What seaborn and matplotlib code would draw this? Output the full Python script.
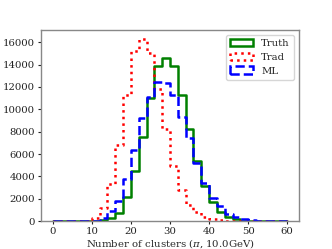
import matplotlib
matplotlib.use("Agg")
import matplotlib.pyplot as plt
import matplotlib.patches as mpatches
import seaborn as sns
import numpy as np
import pandas as pd

# histogram counts, bins of width 2 from 0 to 60
edges = np.arange(0, 62, 2)
truth = [0, 0, 0, 0, 0, 5, 60, 250, 700, 2170, 4450, 7500, 11050, 13850, 14600,
         13850, 11300, 8200, 5330, 3100, 1680, 820, 370, 140, 45, 15, 5, 0, 0, 0]
trad = [0, 0, 0, 0, 30, 280, 1150, 3350, 6790, 11300, 15200, 16280, 15060, 11850, 8280,
        4940, 2740, 1430, 780, 380, 160, 60, 20, 5, 0, 0, 0, 0, 0, 0]
ml = [0, 0, 0, 0, 0, 30, 240, 890, 1810, 3770, 6400, 9200, 11100, 12480, 12350,
      11300, 9300, 7400, 5170, 3420, 2100, 1300, 650, 330, 150, 70, 25, 5, 0, 0]

names = ["Truth", "Trad", "ML"]
colors = {"Truth": "green", "Trad": "red", "ML": "blue"}
styles = {"Truth": "-", "Trad": ":", "ML": "--"}

centers = (edges[:-1] + edges[1:]) / 2
dt = pd.DataFrame({
    "x": np.tile(centers, 3),
    "w": truth + trad + ml,
    "type": np.repeat(names, len(centers)),
})

sns.set_theme(style="ticks", rc={"figure.figsize": (3.32, 2.49), "figure.dpi": 100})
plt.rcParams["font.family"] = ["DejaVu Serif"]
plt.rcParams["mathtext.fontset"] = "dejavuserif"

fig = plt.figure()
ax = fig.add_axes([0.1235, 0.1124, 0.777, 0.767])

for name in names:
    sub = dt[dt["type"] == name]
    sns.histplot(data=sub, x="x", weights="w", binwidth=2, binrange=(0, 60),
                 element="step", fill=False, color=colors[name],
                 linestyle=styles[name], linewidth=1.8, ax=ax)

ax.set_xlim(-3, 63)
ax.set_ylim(0, 17100)
ax.set_xticks(np.arange(0, 70, 10))
ax.set_yticks(np.arange(0, 18000, 2000))
ax.tick_params(labelsize=7.3, length=2.5, width=0.8, pad=1.8, colors="#222222")
for s in ax.spines.values():
    s.set_color("#888888")
    s.set_linewidth(1.0)
ax.set_xlabel("Number of clusters ($\\pi$, 10.0GeV)", fontsize=7.3, labelpad=0.5)
ax.set_ylabel("")

handles = [mpatches.Patch(facecolor="none", edgecolor=colors[n], linestyle=styles[n], linewidth=1.8)
           for n in names]
ax.legend(handles, names, loc="upper right", fontsize=7.3, frameon=True, handlelength=2.3,
          labelspacing=0.45)

plt.savefig("out.png", dpi=100)
